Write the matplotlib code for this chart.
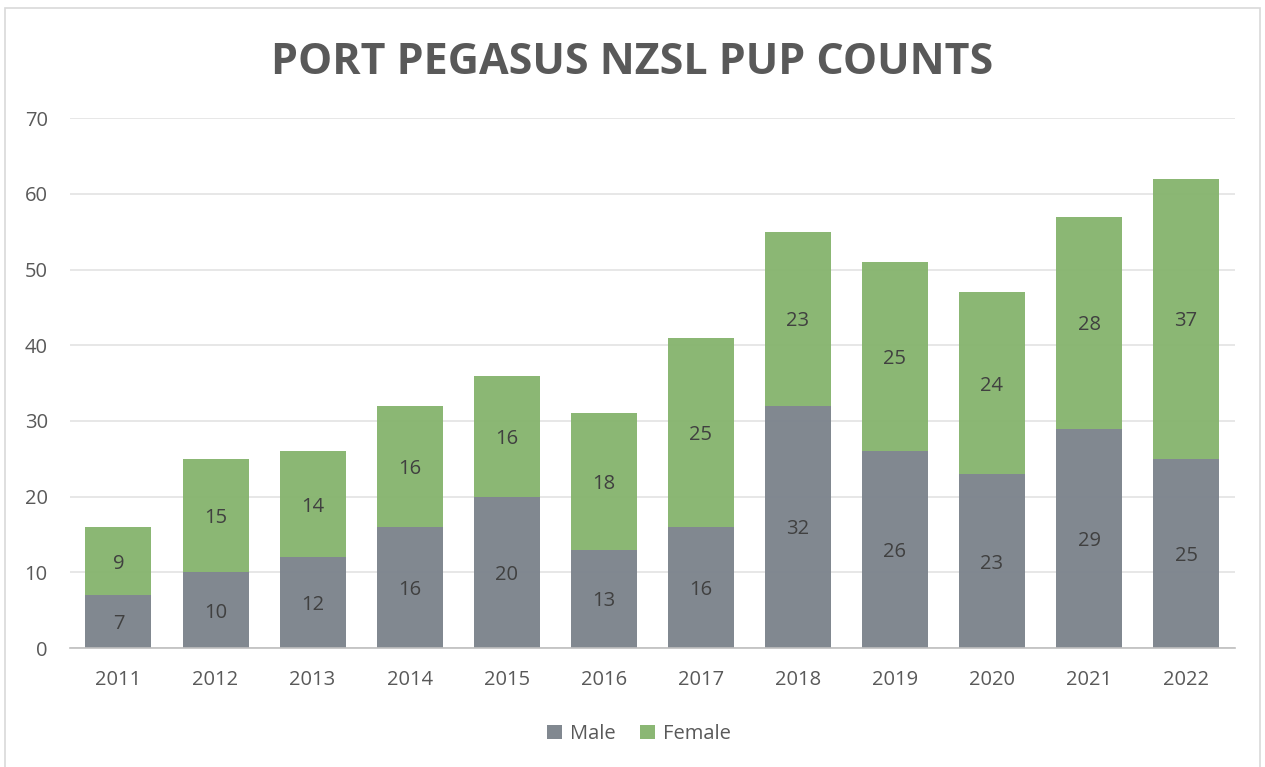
import matplotlib.pyplot as plt
import numpy as np
from matplotlib.patches import Rectangle

years = ["2011", "2012", "2013", "2014", "2015", "2016",
         "2017", "2018", "2019", "2020", "2021", "2022"]
male = [7, 10, 12, 16, 20, 13, 16, 32, 26, 23, 29, 25]
female = [9, 15, 14, 16, 16, 18, 25, 23, 25, 24, 28, 37]

plt.rcParams['font.family'] = ['Open Sans', 'DejaVu Sans']

fig = plt.figure(figsize=(12.65, 7.67), dpi=100)
ax = fig.add_axes([0.0553, 0.155, 0.9207, 0.691])

# chart border like the spreadsheet frame
fig.patches.append(Rectangle((0.004, -0.01), 0.992, 1.0, transform=fig.transFigure,
                             fill=False, edgecolor="#d9d9d9", linewidth=1.2))

x = np.arange(len(years))
w = 0.68
male_color = "#7d848d"
female_color = "#87b56f"

b1 = ax.bar(x, male, w, color=male_color, alpha=0.97, zorder=2, label="Male")
b2 = ax.bar(x, female, w, bottom=male, color=female_color, alpha=0.97, zorder=2, label="Female")

# data labels in the middle of each segment
for i in range(len(years)):
    ax.text(x[i], male[i] / 2, str(male[i]), ha="center", va="center_baseline",
            fontsize=14.5, color="#404040", zorder=3)
    ax.text(x[i], male[i] + female[i] / 2, str(female[i]), ha="center",
            va="center_baseline", fontsize=14.5, color="#404040", zorder=3)

ax.set_xlim(-0.5, len(years) - 0.5)
ax.set_ylim(0, 70)
ax.set_yticks(range(0, 71, 10))
ax.set_xticks(x)
ax.set_xticklabels(years)
ax.yaxis.grid(True, color="#e3e3e3", linewidth=1.2, zorder=1)
ax.set_axisbelow(True)
for s in ["top", "right", "left"]:
    ax.spines[s].set_visible(False)
ax.spines["bottom"].set_color("#bfbfbf")
ax.spines["bottom"].set_linewidth(1.2)
ax.spines["bottom"].set_zorder(3)
ax.tick_params(axis="both", length=0, labelsize=14.5, labelcolor="#595959")
ax.tick_params(axis="x", pad=16)
ax.tick_params(axis="y", pad=16)

fig.text(0.5, 0.918, "PORT PEGASUS NZSL PUP COUNTS", ha="center", va="center",
         fontsize=31, fontweight="bold", color="#595959")

fig.legend(handles=[b1, b2], labels=["Male", "Female"], loc="center",
           bbox_to_anchor=(0.505, 0.043), ncol=2, frameon=False, fontsize=14.5,
           labelcolor="#595959", handlelength=0.75, handleheight=0.75,
           handletextpad=0.4, columnspacing=1.2)

fig.savefig("out.png", dpi=100)
